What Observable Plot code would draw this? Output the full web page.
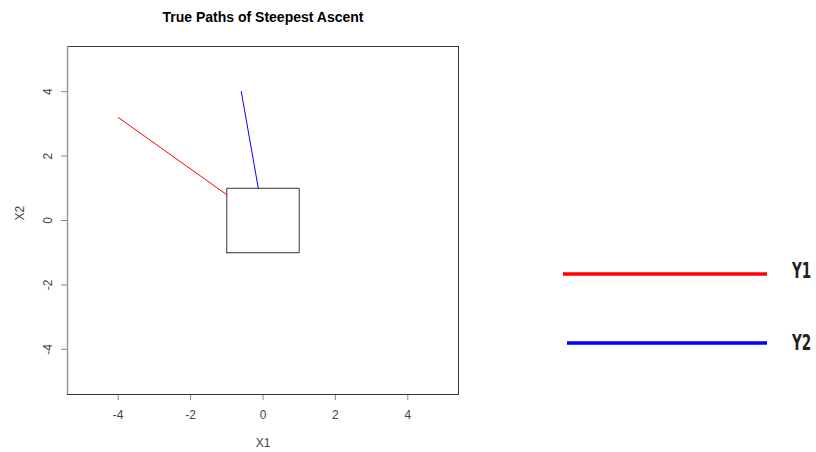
<!DOCTYPE html>
<html>
<head>
<meta charset="utf-8">
<script src="https://cdn.jsdelivr.net/npm/d3@7"></script>
<script src="https://cdn.jsdelivr.net/npm/@observablehq/plot@0.6"></script>
<style>
  body { margin: 0; background: #fff; }
  #wrap { position: relative; width: 816px; height: 452px; font-family: "Liberation Sans", Arial, sans-serif; }
  #title { position: absolute; left: 0; width: 526px; top: 9px; text-align: center; font-weight: bold; font-size: 14px; color: #000; }
  #legend { position: absolute; left: 0; top: 0; }
</style>
</head>
<body>
<div id="wrap">
  <div id="title">True Paths of Steepest Ascent</div>
</div>
<script>
// Data
const seriesNames = ["Y1", "Y2"];
const seriesColors = ["#ff0000", "#0000ff"];
const y1Path = [ {x1: -4.0, x2: 3.2}, {x1: -1.0, x2: 0.8} ];
const y2Path = [ {x1: -0.6, x2: 4.0}, {x1: -0.13, x2: 1.0} ];
const squareCorners = [ {x1: -1, x2: -1}, {x1: 1, x2: -1}, {x1: 1, x2: 1}, {x1: -1, x2: 1}, {x1: -1, x2: -1} ];
const xTicks = [-4, -2, 0, 2, 4];
const yTicks = [-4, -2, 0, 2, 4];
const domainLim = 5.4;

const font = "Liberation Sans, Arial, sans-serif";
const chart = Plot.plot({
  width: 816,
  height: 452,
  marginLeft: 67,
  marginRight: 358,
  marginTop: 46,
  marginBottom: 58,
  style: { fontFamily: font, fontSize: "12px", color: "#444", background: "transparent" },
  x: { domain: [-domainLim, domainLim] },
  y: { domain: [-domainLim, domainLim] },
  marks: [
    Plot.axisX({ ticks: xTicks, tickSize: 6, tickPadding: 10, tickFormat: d => String(d), label: null, stroke: "#888", fill: "#444", fontSize: 12 }),
    Plot.axisY({ ticks: yTicks, tickSize: 6, tickFormat: () => "", label: null, stroke: "#888" }),
    Plot.text(yTicks, { x: -domainLim, y: d => d, text: d => String(d), rotate: -90, dx: -19, fill: "#444", fontSize: 12, textAnchor: "middle" }),
    Plot.text(["X1"], { frameAnchor: "bottom", dy: 52, text: d => d, fill: "#444", fontSize: 12 }),
    Plot.text(["X2"], { frameAnchor: "left", dx: -47, text: d => d, rotate: -90, fill: "#444", fontSize: 12 }),
    Plot.frame({ stroke: "#333", strokeWidth: 1 }),
    Plot.ruleX([-domainLim], { stroke: "#999", strokeWidth: 1.5 }),
    Plot.line(squareCorners, { x: "x1", y: "x2", stroke: "#333", strokeWidth: 1 }),
    Plot.line(y1Path, { x: "x1", y: "x2", stroke: seriesColors[0], strokeWidth: 1 }),
    Plot.line(y2Path, { x: "x1", y: "x2", stroke: seriesColors[1], strokeWidth: 1 })
  ]
});
chart.style.position = "absolute";
chart.style.left = "0px";
chart.style.top = "0px";
document.getElementById("wrap").appendChild(chart);

// Legend
const legendY = [274, 343];
const legendX0 = [563, 567];
const legendTextY = [278, 350];
const svg = d3.select("#wrap").append("svg")
  .attr("id", "legend").attr("width", 816).attr("height", 452);
seriesNames.forEach((name, i) => {
  svg.append("line")
    .attr("x1", legendX0[i]).attr("x2", 767)
    .attr("y1", legendY[i]).attr("y2", legendY[i])
    .attr("stroke", seriesColors[i]).attr("stroke-width", 3.5);
  svg.append("text")
    .attr("transform", `translate(792,${legendTextY[i]}) scale(0.72,1)`)
    .attr("font-family", "DejaVu Sans Condensed, DejaVu Sans")
    .attr("font-weight", "bold")
    .attr("font-size", 21).attr("fill", "#222")
    .text(name);
});
</script>
</body>
</html>
